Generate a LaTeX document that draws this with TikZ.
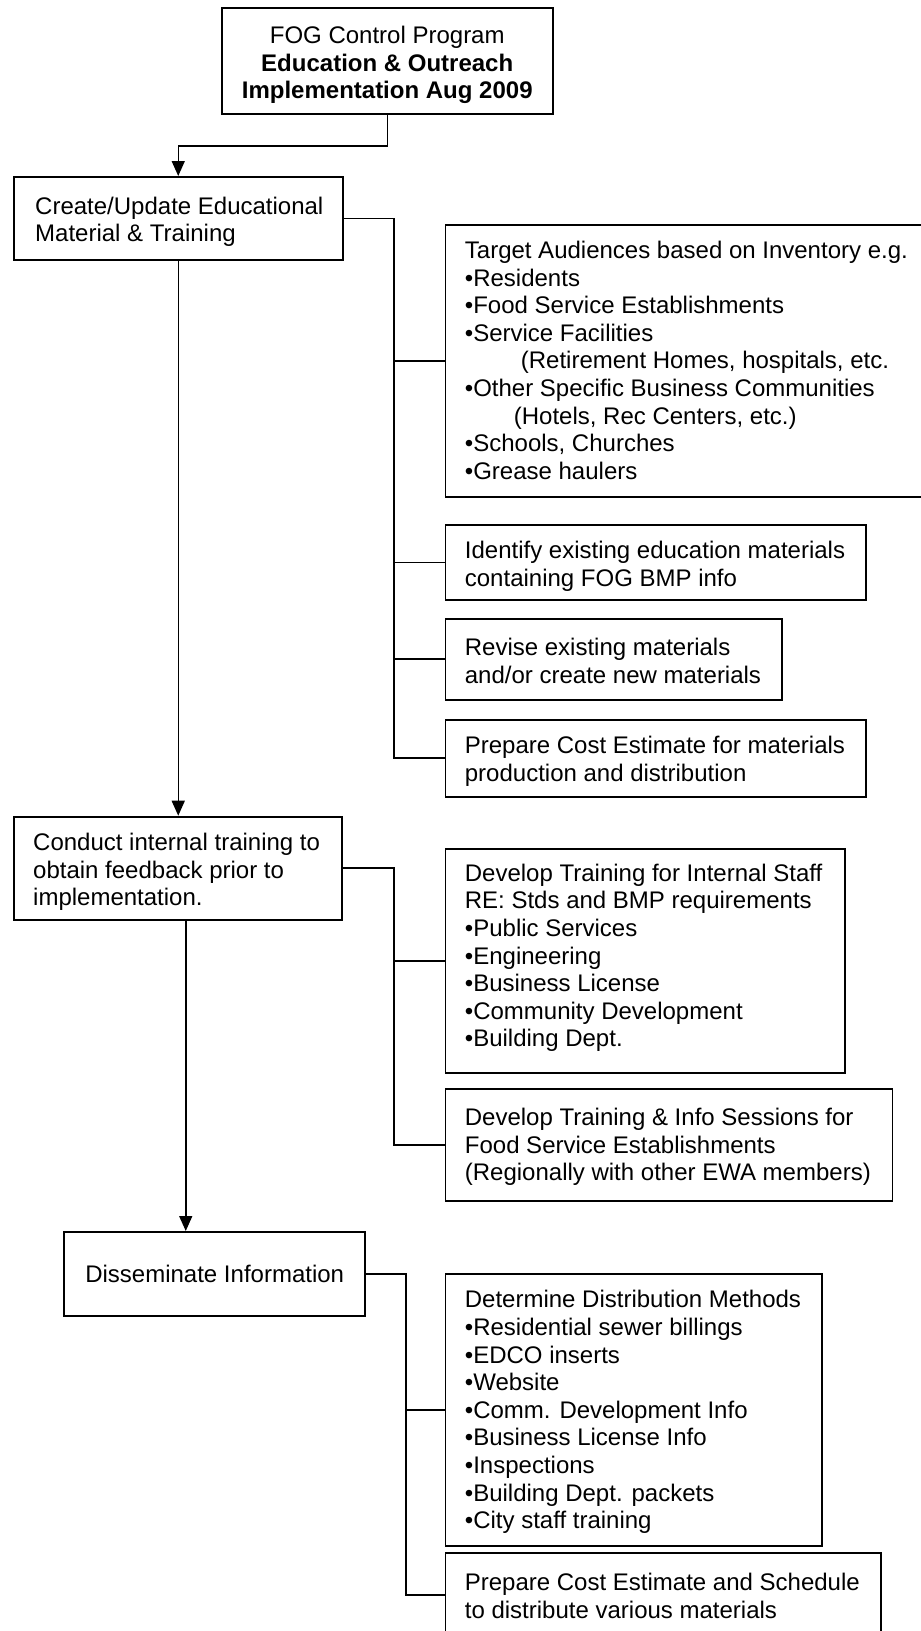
\documentclass[tikz,border=0pt]{standalone}
\usepackage{fontspec}
\setmainfont{Liberation Sans}
\usetikzlibrary{arrows.meta}
\newcommand\bxc[5]{\parbox[c][#2][t]{#1}{\raggedright\leftskip=#3\relax\rule{0pt}{#4}#5}}
\begin{document}
\begin{tikzpicture}[x=1pt,y=-1pt,
  font=\fontsize{24}{27.6}\selectfont,
  box/.style={draw, line width=1.8pt, inner sep=0pt, anchor=north west},
  ln/.style={line width=1.8pt},
  arr/.style={line width=1.5pt, -{Triangle[length=15pt,width=13pt]}}]
\clip (0,0) rectangle (921,1631);
\fill[white] (0,0) rectangle (921,1631);

\node[box] (top) at (220.7,7.3) {\bxc{331.3pt}{105.4pt}{0pt}{35.4pt}{\centering FOG Control Program\\\textbf{Education \& Outreach}\\\textbf{Implementation Aug 2009}}};

\node[box] (create) at (12.7,176) {\bxc{329.3pt}{83.3pt}{21.6pt}{37.3pt}{Create/Update Educational\\Material \& Training}};

\node[box] (target) at (444.5,224) {\bxc{490pt}{272pt}{19.5pt}{33.5pt}{Target Audiences based on Inventory e.g.\\
•Residents\\
•Food Service Establishments\\
•Service Facilities\\
\hspace*{56pt}(Retirement Homes, hospitals, etc.\\
•Other Specific Business Communities\\
\hspace*{49pt}(Hotels, Rec Centers, etc.)\\
•Schools, Churches\\
•Grease haulers}};

\node[box] (identify) at (444.5,524) {\bxc{420.5pt}{75pt}{19.5pt}{34pt}{Identify existing education materials\\containing FOG BMP info}};

\node[box] (revise) at (444.5,618) {\bxc{336.5pt}{80.7pt}{19.5pt}{36.5pt}{Revise existing materials\\and/or create new materials}};

\node[box] (prepcost) at (444.5,719) {\bxc{420.5pt}{76.7pt}{19.5pt}{34pt}{Prepare Cost Estimate for materials\\production and distribution}};

\node[box] (conduct) at (13,815.7) {\bxc{327.7pt}{103.3pt}{19.3pt}{34pt}{Conduct internal training to\\obtain feedback prior to\\implementation.}};

\node[box] (devstaff) at (444.5,848.3) {\bxc{399.5pt}{224pt}{19.5pt}{32pt}{Develop Training for Internal Staff\\
RE: Stds and BMP requirements\\
•Public Services\\
•Engineering\\
•Business License\\
•Community Development\\
•Building Dept.}};

\node[box] (devfse) at (444.5,1087.7) {\bxc{447.1pt}{112.3pt}{19.5pt}{37pt}{Develop Training \& Info Sessions for\\Food Service Establishments\\(Regionally with other EWA members)}};

\node[box, minimum width=300.8pt, minimum height=83.7pt] (dissem) at (63.4,1231) {Disseminate Information};

\node[box] (determine) at (444.5,1272.7) {\bxc{376.5pt}{272.3pt}{19.5pt}{34.3pt}{Determine Distribution Methods\\
•Residential sewer billings\\
•EDCO inserts\\
•Website\\
•Comm. Development Info\\
•Business License Info\\
•Inspections\\
•Building Dept. packets\\
•City staff training}};

\node[box] (prepsched) at (444.5,1552.3) {\bxc{435.5pt}{84pt}{19.5pt}{37.7pt}{Prepare Cost Estimate and Schedule\\to distribute various materials}};

% main flow
\draw[arr] (top.south) -- ++(0,31.3) -| (create.north);
\draw[arr] (create.south) -- (create.south |- conduct.north);
\draw[arr] ([xshift=8pt]conduct.south) -- ([xshift=8pt]conduct.south |- dissem.north);

% branches
\draw[ln] (create.east) -- ++(50.4,0) coordinate (j1) -- (j1 |- prepcost.west) -- (prepcost.west);
\foreach \n in {target,identify,revise} \draw[ln] (j1 |- \n.west) -- (\n.west);

\draw[ln] (conduct.east) -- ++(51.7,0) coordinate (j2) -- (j2 |- devfse.west) -- (devfse.west);
\draw[ln] (j2 |- devstaff.west) -- (devstaff.west);

\draw[ln] (dissem.east) -- ++(39.8,0) coordinate (j3) -- (j3 |- prepsched.west) -- (prepsched.west);
\draw[ln] (j3 |- determine.west) -- (determine.west);
\end{tikzpicture}
\end{document}
